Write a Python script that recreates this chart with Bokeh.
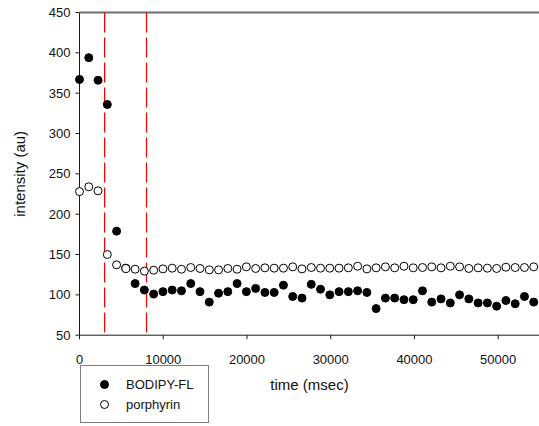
import numpy as np
from bokeh.plotting import figure
from bokeh.models import Legend, LegendItem, Range1d, ColumnDataSource
from bokeh.core.properties import value
from bokeh.embed import file_html
from bokeh.resources import INLINE

# time stamps (msec)
times = [0, 1107, 2214, 3321, 4428, 5535, 6642, 7749, 8856, 9963,
         11070, 12177, 13284, 14391, 15498, 16605, 17712, 18819, 19926, 21033,
         22140, 23247, 24354, 25461, 26568, 27675, 28782, 29889, 30996, 32103,
         33210, 34317, 35424, 36531, 37638, 38745, 39852, 40959, 42066, 43173,
         44280, 45387, 46494, 47601, 48708, 49815, 50922, 52029, 53136, 54243]

bodipy = [367, 394, 366, 336, 179, 133, 114, 106, 101, 104,
          106, 105, 114, 104, 91, 102, 104, 114, 104, 108,
          103, 103, 112, 98, 96, 113, 107, 100, 104, 104,
          105, 103, 83, 96, 96, 94, 94, 105, 91, 95,
          90, 100, 95, 90, 90, 86, 93, 89, 98, 91]

porphyrin = [228, 234, 229, 150, 137.2, 132.7, 131.8, 129.4, 130.6, 132.2,
             133.1, 131.8, 133.9, 132.7, 131.0, 131.0, 132.7, 131.8, 134.7, 132.7,
             133.5, 133.1, 133.1, 134.7, 132.2, 133.9, 133.1, 133.1, 133.1, 133.5,
             135.5, 132.2, 133.5, 134.7, 133.5, 135.5, 133.5, 133.9, 134.7, 133.5,
             135.5, 134.7, 132.7, 133.5, 133.1, 132.7, 134.3, 133.9, 133.9, 134.7]

marker_lines = [3000, 8000]
x_ticks = [0, 10000, 20000, 30000, 40000, 50000]
y_ticks = [50, 100, 150, 200, 250, 300, 350, 400, 450]
x_label = "time (msec)"
y_label = "intensity (au)"
labels = ["BODIPY-FL", "porphyrin"]

# axis extents (data units)
X_MIN, X_MAX = 0, 54932
Y_MIN, Y_MAX = 50, 450

FONT = "Liberation Sans"
AX = "#1a1a1a"
TXT = "#111111"

# the frame fills the whole canvas; axes, labels and legend are drawn inside it
p = figure(width=539, height=426, x_range=Range1d(-9434, 54932), y_range=Range1d(-63.17, 464.87),
           output_backend="svg", toolbar_location=None, title=None,
           x_axis_location=None, y_axis_location=None, min_border=0)
p.grid.visible = False
p.outline_line_color = None
p.background_fill_color = "white"
p.border_fill_color = "white"

# frame lines
p.segment(x0=[X_MIN], y0=[Y_MIN], x1=[X_MAX], y1=[Y_MIN], line_color=AX, line_width=1)
p.segment(x0=[X_MIN], y0=[Y_MIN], x1=[X_MIN], y1=[Y_MAX], line_color=AX, line_width=1)
p.segment(x0=[X_MIN], y0=[Y_MAX], x1=[X_MAX], y1=[Y_MAX], line_color="#6e6e6e", line_width=2)

# ticks
p.ray(x=x_ticks, y=[Y_MIN] * len(x_ticks), length=4, length_units="screen",
      angle=-np.pi / 2, line_color=AX, line_width=1)
p.ray(x=[X_MIN] * len(y_ticks), y=y_ticks, length=4, length_units="screen",
      angle=np.pi, line_color=AX, line_width=1)

# tick labels
p.text(x=x_ticks, y=[Y_MIN] * len(x_ticks), text=[str(t) for t in x_ticks],
       text_align="center", text_baseline="alphabetic", y_offset=24,
       text_font=value(FONT), text_font_size="13px", text_color=TXT)
p.text(x=[X_MIN] * len(y_ticks), y=y_ticks, text=[str(t) for t in y_ticks],
       text_align="right", text_baseline="middle", x_offset=-9,
       text_font=value(FONT), text_font_size="13px", text_color=TXT)

# axis titles
p.text(x=[(X_MIN + X_MAX) / 2], y=[Y_MIN], text=[x_label], text_align="center",
       text_baseline="alphabetic", y_offset=49,
       text_font=value(FONT), text_font_size="15px", text_color=TXT)
p.text(x=[-9434], y=[(Y_MIN + Y_MAX) / 2], text=[y_label], text_align="center",
       text_baseline="middle", x_offset=19, angle=np.pi / 2,
       text_font=value(FONT), text_font_size="15px", text_color=TXT)

# red dashed reference lines
p.segment(x0=marker_lines, y0=[Y_MAX] * len(marker_lines), x1=marker_lines,
          y1=[Y_MIN] * len(marker_lines), line_color="red", line_width=1.2, line_dash="20 5")

src = ColumnDataSource(dict(t=times, b=bodipy, q=porphyrin))
r1 = p.scatter("t", "b", source=src, size=8, fill_color="black", line_color="black")
r2 = p.scatter("t", "q", source=src, size=8, fill_color="white", line_color="black", line_width=1)

legend = Legend(items=[LegendItem(label=labels[0], renderers=[r1]),
                       LegendItem(label=labels[1], renderers=[r2])],
                location=(80, 3), orientation="vertical",
                border_line_color="black", border_line_width=1,
                background_fill_color="white", background_fill_alpha=1,
                padding=8, margin=0, spacing=-5, glyph_width=30, glyph_height=20,
                label_standoff=7, label_width=74, label_height=20,
                label_text_font=FONT, label_text_font_size="13px", label_text_color=TXT)
p.add_layout(legend)

open("out.html", "w").write(file_html(p, INLINE))
